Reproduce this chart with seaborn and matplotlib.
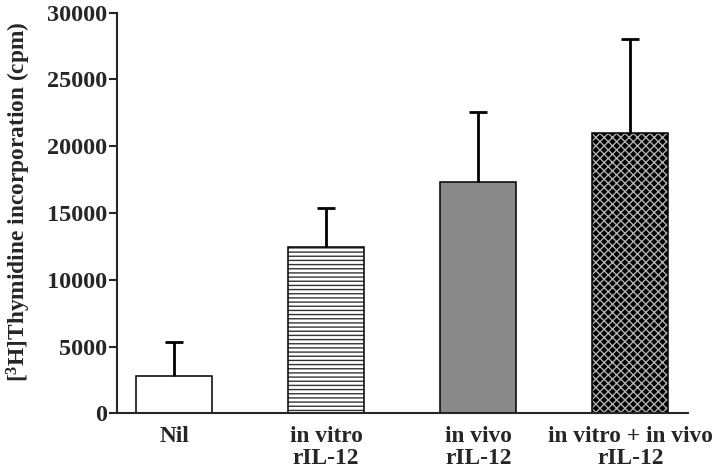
import matplotlib
matplotlib.use("Agg")
import matplotlib.pyplot as plt
import matplotlib.patches as mpatches
import seaborn as sns
import numpy as np

categories = ["Nil", "in vitro\nrIL-12", "in vivo\nrIL-12", "in vitro + in vivo\nrIL-12"]
means = [2800, 12450, 17350, 21000]
errors = [2550, 2950, 5200, 7050]
yticks = [0, 5000, 10000, 15000, 20000, 25000, 30000]

sns.set_style("ticks")
plt.rcParams["font.family"] = ["Liberation Serif", "DejaVu Serif"]
plt.rcParams["font.weight"] = "bold"
plt.rcParams["mathtext.fontset"] = "custom"
plt.rcParams["mathtext.rm"] = "Liberation Serif:bold"
plt.rcParams["mathtext.it"] = "Liberation Serif:bold"
plt.rcParams["mathtext.bf"] = "Liberation Serif:bold"
plt.rcParams["hatch.linewidth"] = 1.0

fig = plt.figure(figsize=(7.2, 4.73), dpi=100)
ax = fig.add_axes([117 / 720, 59.7 / 473, 571 / 720, 400.6 / 473])

faces = ["white", "white", "#8a8a8a", "black"]
sns.barplot(x=categories, y=means, hue=categories, palette=faces, width=0.5,
            edgecolor="black", linewidth=1.1, ax=ax, legend=False, saturation=1)

hatches = [None, "----", None, "xxxx"]
hatch_cols = ["black", "#333333", "black", "#b0b0b0"]
for p, h, hc in list(zip(ax.patches, hatches, hatch_cols)):
    if h:
        p.set_hatch(h)
        p.set_edgecolor(hc)
        p.set_linewidth(0)
        r = mpatches.Rectangle(p.get_xy(), p.get_width(), p.get_height(),
                               facecolor="none", edgecolor="black", linewidth=1.1,
                               zorder=p.get_zorder() + 0.1)
        ax.add_patch(r)

x = np.arange(len(categories))
eb = ax.errorbar(x, means, yerr=[np.zeros(len(means)), errors], fmt="none",
                 ecolor="black", elinewidth=2.0, capsize=6.5, capthick=2.0, zorder=3)
caplines = eb[1]
if len(caplines) >= 1:
    caplines[0].set_visible(False)

ax.set_ylim(0, 30000)
ax.set_xlim(-0.375, 3.38)
ax.set_yticks(yticks)
ax.set_yticklabels([str(t) for t in yticks], fontsize=17.5, fontweight="bold")
ax.tick_params(axis="y", length=5.5, width=1.5, pad=1.5)
ax.tick_params(axis="x", length=0, pad=9)
for lab in ax.get_xticklabels():
    lab.set_fontsize(16.8)
    lab.set_fontweight("bold")
    lab.set_linespacing(1.1)
ax.set_ylabel("[$^{3}$H]Thymidine incorporation (cpm)", fontsize=16.8, fontweight="bold", labelpad=10)
ax.yaxis.label.set_y(0.529)
ax.set_xlabel("")
sns.despine(ax=ax)
for s in ["left", "bottom"]:
    ax.spines[s].set_linewidth(1.5)

fig.savefig("out.png", dpi=100)
